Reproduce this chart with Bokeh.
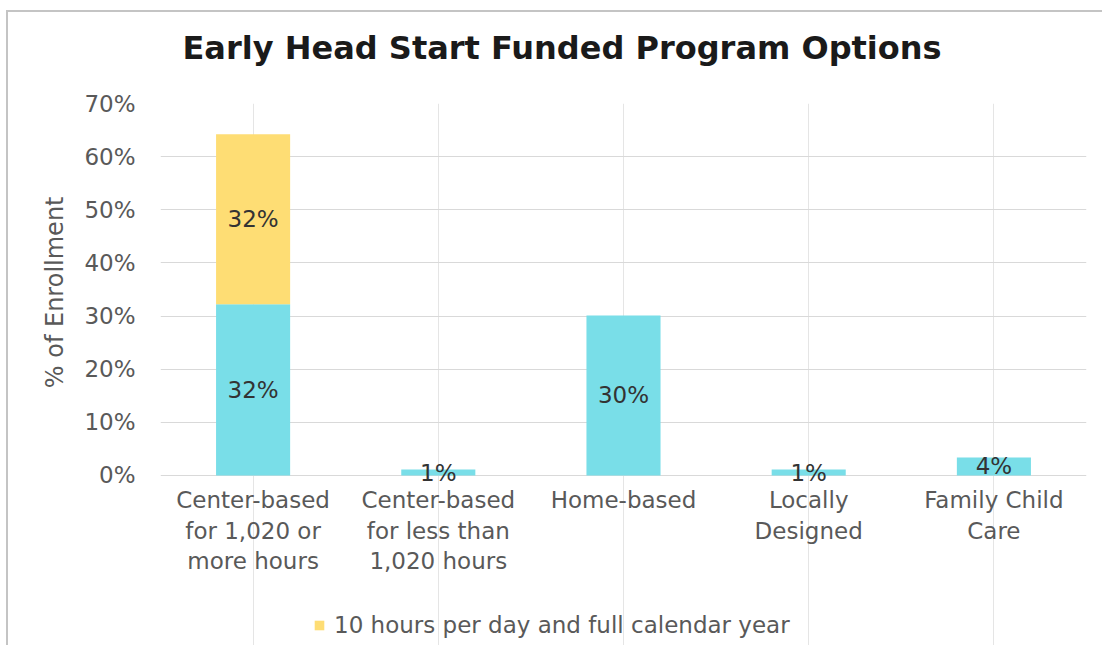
from bokeh.plotting import figure
from bokeh.models import (ColumnDataSource, FactorRange, Range1d, Legend, LegendItem,
                          PrintfTickFormatter, FixedTicker, Title)
from bokeh.core.properties import value
from bokeh.embed import file_html
from bokeh.resources import INLINE

# ---- data ----
categories = [
    "Center-based\nfor 1,020 or\nmore hours",
    "Center-based\nfor less than\n1,020 hours",
    "Home-based",
    "Locally\nDesigned",
    "Family Child\nCare",
]
base_pct = [32.2, 1.1, 30.1, 1.1, 3.4]           # cyan series
fullday_pct = [32.0, 0.0, 0.0, 0.0, 0.0]         # yellow series (10 hours/day, full year)
base_labels = ["32%", "1%", "30%", "1%", "4%"]
fullday_labels = ["32%", "", "", "", ""]
legend_label = "10 hours per day and full calendar year"
chart_title = "Early Head Start Funded Program Options"
y_title = "% of Enrollment"
y_ticks = [0, 10, 20, 30, 40, 50, 60, 70]

CYAN = "#79DEE8"
YELLOW = "#FEDD74"
FONT = "DejaVu Sans"
GREY_TEXT = "#595959"

# the frame reaches down below 0% so that category labels and legend sit inside it
Y_BOTTOM = -32
CAT_LABEL_Y = -2.2

src = ColumnDataSource(dict(
    cat=categories,
    base=base_pct,
    base_mid=[b / 2 for b in base_pct],
    top=[b + f for b, f in zip(base_pct, fullday_pct)],
    full_mid=[b + f / 2 for b, f in zip(base_pct, fullday_pct)],
    base_lbl=base_labels,
    full_lbl=fullday_labels,
    cat_y=[CAT_LABEL_Y] * len(categories),
))

p = figure(
    x_range=FactorRange(*categories, range_padding=0),
    y_range=Range1d(Y_BOTTOM, 70),
    x_axis_location=None,
    frame_width=926, frame_height=542,
    min_border_left=152, min_border_right=18,
    min_border_top=91, min_border_bottom=0,
    output_backend="svg", toolbar_location=None,
    title=None,
)
p.styles = {"border-top": "2px solid #c4c4c4", "border-left": "2px solid #c4c4c4",
            "margin-left": "6px", "margin-top": "10px"}

spacer = Title(text=" ", text_font_size="1px", standoff=34)
main_title = Title(text=chart_title, text_font=FONT, text_font_size="32px", text_font_style="bold",
                   text_color="#1a1a1a", align="left", offset=22, standoff=0)
p.add_layout(spacer, "above")
p.add_layout(main_title, "above")

p.outline_line_color = None
p.background_fill_color = "white"
p.border_fill_color = "white"

cyan = p.vbar(x="cat", bottom=0, top="base", width=0.4, source=src, fill_color=CYAN, line_color=None)
yellow = p.vbar(x="cat", bottom="base", top="top", width=0.4, source=src, fill_color=YELLOW, line_color=None)

# value labels
for ycol, tcol in (("base_mid", "base_lbl"), ("full_mid", "full_lbl")):
    p.text(x="cat", y=ycol, text=tcol, source=src, text_align="center", text_baseline="middle",
           text_font=value(FONT), text_font_size="23px", text_color="#333333")

# category labels (multi-line), placed under the 0% line
p.text(x="cat", y="cat_y", text="cat", source=src, text_align="center", text_baseline="top",
       text_font=value(FONT), text_font_size="23px", text_color=GREY_TEXT, text_line_height=1.17)

# y axis
p.yaxis.ticker = FixedTicker(ticks=y_ticks)
p.yaxis.formatter = PrintfTickFormatter(format="%d%%")
p.yaxis.axis_line_color = None
p.yaxis.major_tick_line_color = None
p.yaxis.minor_tick_line_color = None
p.yaxis.major_label_text_font = FONT
p.yaxis.major_label_text_font_size = "23px"
p.yaxis.major_label_text_color = GREY_TEXT
p.yaxis.major_label_standoff = 19

y_axis_title = Title(text=y_title, text_font=FONT, text_font_size="24px", text_font_style="normal",
                     text_color=GREY_TEXT, align="right", offset=93, vertical_align="bottom", standoff=25)
p.add_layout(y_axis_title, "left")

p.ygrid.grid_line_color = "#d9d9d9"
p.ygrid.grid_line_width = 1

legend = Legend(
    items=[LegendItem(label=legend_label, renderers=[yellow])],
    location=(153, 7), orientation="horizontal",
    glyph_width=12, glyph_height=12, label_standoff=9, padding=5, margin=0,
    label_text_font=FONT, label_text_font_size="23px", label_text_color=GREY_TEXT,
    border_line_color=None, background_fill_alpha=0,
)
p.add_layout(legend, "center")

open("out.html", "w").write(file_html(p, INLINE))
